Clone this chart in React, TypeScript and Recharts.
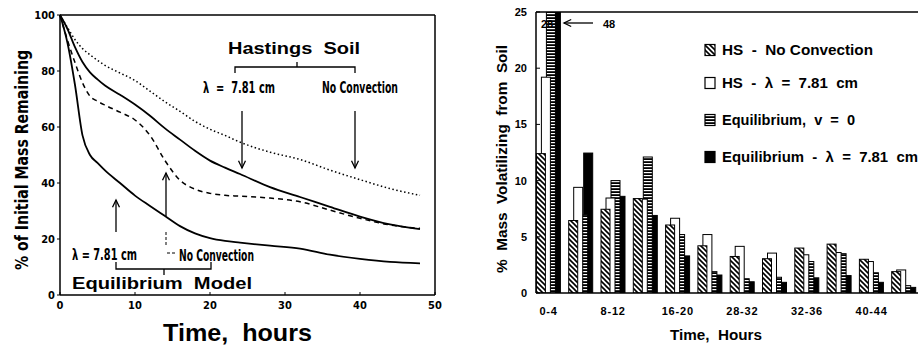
import React from "react";
import { LineChart, Line, XAxis, YAxis, BarChart, Bar, ReferenceLine } from "recharts";

// left panel: % of initial mass remaining vs time
const HOURS = [0, 1, 2, 3, 4, 5, 6, 8, 10, 12, 14, 16, 18, 20, 22, 24, 28, 32, 36, 40, 44, 48];
const HS_NO_CONVECTION = [100, 95.5, 91.2, 88, 85.8, 83.8, 82, 79.3, 76.6, 72.8, 69, 65.6, 62, 59.2, 57, 54.6, 51, 48.4, 44.6, 41.2, 38, 35.6];
const HS_LAMBDA = [100, 95, 88.5, 83.2, 79.5, 77, 74.8, 71.5, 68, 64, 59.5, 55.5, 51.5, 48, 45.5, 43.2, 38.5, 35, 31.5, 28, 25.2, 23.5];
const EQ_NO_CONVECTION = [100, 91, 83, 75.8, 71, 69.2, 67.8, 65.3, 62.5, 57, 48, 41, 37.8, 36.3, 35.6, 35.3, 34.6, 33.3, 30.3, 27.4, 25, 23.8];
const EQ_LAMBDA = [100, 90, 75, 57, 50, 47.2, 44.5, 40, 35.5, 31.8, 28.2, 24.6, 22, 20.3, 19.3, 18.7, 17.6, 16.6, 14.4, 12.9, 11.8, 11.3];
const REMAIN_X_TICKS = [0, 10, 20, 30, 40, 50];
const REMAIN_Y_TICKS = [0, 20, 40, 60, 80, 100];

// right panel: % mass volatilizing per 4-hour period
const PERIODS = ["0-4", "4-8", "8-12", "12-16", "16-20", "20-24", "24-28", "28-32", "32-36", "36-40", "40-44", "44-48"];
const PERIOD_TICKS = ["0-4", "", "8-12", "", "16-20", "", "28-32", "", "32-36", "", "40-44", ""];
const HS_NC_BARS = [12.4, 6.45, 7.45, 8.4, 6.05, 4.2, 3.25, 3.05, 4.0, 4.35, 3.0, 1.9];
const HS_LAMBDA_BARS = [19.2, 9.4, 8.45, 8.35, 6.65, 5.2, 4.15, 3.55, 3.4, 3.6, 2.8, 2.05];
const EQ_V0_BARS = [28, 6.95, 10.0, 12.1, 5.2, 1.9, 1.27, 1.4, 2.8, 3.5, 1.8, 0.65];
const EQ_LAMBDA_BARS = [48, 12.45, 8.6, 6.9, 3.3, 1.6, 1.0, 0.95, 1.35, 1.55, 0.95, 0.5];
const VOL_Y_TICKS = [0, 5, 10, 15, 20, 25];

const curveRows = HOURS.map((t, i) => ({
  t,
  hsNc: HS_NO_CONVECTION[i],
  hsLambda: HS_LAMBDA[i],
  eqNc: EQ_NO_CONVECTION[i],
  eqLambda: EQ_LAMBDA[i],
}));

const barRows = PERIODS.map((period, i) => ({
  period,
  hsNc: HS_NC_BARS[i],
  hsLambda: HS_LAMBDA_BARS[i],
  eqV0: EQ_V0_BARS[i],
  eqLambda: EQ_LAMBDA_BARS[i],
}));

const NARROW = "'Liberation Sans Narrow', 'Arial Narrow', 'DejaVu Sans Condensed', 'Liberation Sans', sans-serif";
const BOLD = "'Liberation Sans', Arial, sans-serif";

const BAR_SIZE = 9;
const BAR_GAP = -4;
const STEP = BAR_SIZE + BAR_GAP;

// bars are declared right-to-left so the left ones paint on top; the shape flips them back
const BAR_SERIES = [
  { key: "eqLambda", fill: "#000" },
  { key: "eqV0", fill: "url(#hstripe)" },
  { key: "hsLambda", fill: "#fff" },
  { key: "hsNc", fill: "url(#diag)" },
];

const LEGEND = [
  { label: "HS  -  No Convection", fill: "url(#diag)", cy: 50, len: 151 },
  { label: "HS  -  \u03bb  =  7.81  cm", fill: "#fff", cy: 83, len: 136 },
  { label: "Equilibrium,  v  =  0", fill: "url(#hstripe)", cy: 120, len: 133 },
  { label: "Equilibrium  -  \u03bb  =  7.81  cm", fill: "#000", cy: 157, len: 196 },
];

const makeShape = (shift: number, fill: string) => (props: any) => {
  const { x, y, width, height } = props;
  if (!height || height <= 0) return <g />;
  return <rect x={x + shift} y={y} width={width} height={height} fill={fill} stroke="#000" strokeWidth={1} />;
};

const Arrow = ({ x1, y1, x2, y2 }: { x1: number; y1: number; x2: number; y2: number }) => {
  const a = Math.atan2(y2 - y1, x2 - x1);
  const h = 8;
  const p1 = [x2 - h * Math.cos(a - 0.45), y2 - h * Math.sin(a - 0.45)];
  const p2 = [x2 - h * Math.cos(a + 0.45), y2 - h * Math.sin(a + 0.45)];
  return (
    <g stroke="#000" strokeWidth={1.3} fill="none">
      <line x1={x1} y1={y1} x2={x2} y2={y2} />
      <polyline points={`${p1[0]},${p1[1]} ${x2},${y2} ${p2[0]},${p2[1]}`} />
    </g>
  );
};

const Txt = ({ x, y, len, size, children, bold = true, narrow = false, anchor = "start", transform }: any) => (
  <text
    x={x}
    y={y}
    transform={transform}
    textAnchor={anchor}
    textLength={len}
    lengthAdjust="spacingAndGlyphs"
    fontFamily={narrow ? NARROW : BOLD}
    fontWeight={bold ? "bold" : "normal"}
    fontSize={size}
    fill="#000"
    style={{ whiteSpace: "pre" }}
  >
    {children}
  </text>
);

export default function App() {
  return (
    <div style={{ position: "absolute", left: 0, top: 0, width: 918, height: 346, overflow: "hidden", background: "#fff" }}>
      <svg width={0} height={0} style={{ position: "absolute" }}>
        <defs>
          <pattern id="diag" width={5} height={5} patternUnits="userSpaceOnUse">
            <rect width={5} height={5} fill="#fff" />
            <path d="M0,0 L5,5 M-1,4 L1,6 M4,-1 L6,1" stroke="#000" strokeWidth={1.6} />
          </pattern>
          <pattern id="hstripe" width={4} height={3} patternUnits="userSpaceOnUse">
            <rect width={4} height={3} fill="#000" />
            <rect x={0} y={1} width={4} height={1.2} fill="#fff" />
          </pattern>
        </defs>
      </svg>

      <div style={{ position: "absolute", left: 0, top: 0 }}>
        <LineChart width={460} height={346} data={curveRows} margin={{ top: 15, right: 25, bottom: 21, left: 0 }}>
          <XAxis
            dataKey="t"
            type="number"
            domain={[0, 50]}
            ticks={REMAIN_X_TICKS}
            height={30}
            tickSize={-3}
            tickMargin={9}
            axisLine={{ stroke: "#000", strokeWidth: 1.5 }}
            tickLine={{ stroke: "#000" }}
            tick={{ fontSize: 11, fill: "#000", fontFamily: NARROW, fontWeight: "bold" }}
          />
          <YAxis
            type="number"
            domain={[0, 100]}
            ticks={REMAIN_Y_TICKS}
            width={60}
            tickSize={3}
            tickMargin={2}
            axisLine={{ stroke: "#000", strokeWidth: 1.5 }}
            tickLine={{ stroke: "#000" }}
            tick={{ fontSize: 11, fill: "#000", fontFamily: NARROW, fontWeight: "bold" }}
          />
          <ReferenceLine y={100} stroke="#000" strokeWidth={1.5} />
          <ReferenceLine x={50} stroke="#000" strokeWidth={1.5} />
          <Line dataKey="hsNc" type="monotone" stroke="#000" strokeWidth={1.5} strokeDasharray="1.5 2.5" dot={false} isAnimationActive={false} />
          <Line dataKey="hsLambda" type="monotone" stroke="#000" strokeWidth={1.8} dot={false} isAnimationActive={false} />
          <Line dataKey="eqNc" type="monotone" stroke="#000" strokeWidth={1.5} strokeDasharray="5 4" dot={false} isAnimationActive={false} />
          <Line dataKey="eqLambda" type="monotone" stroke="#000" strokeWidth={1.8} dot={false} isAnimationActive={false} />
        </LineChart>
      </div>

      <div style={{ position: "absolute", left: 460, top: 0 }}>
        <BarChart
          width={460}
          height={346}
          data={barRows}
          margin={{ top: 12, right: 0, bottom: 23, left: 0 }}
          barSize={BAR_SIZE}
          barGap={BAR_GAP}
        >
          <XAxis
            dataKey="period"
            interval={0}
            padding={{ left: -3.6, right: 0 }}
            height={30}
            tickLine={false}
            tickSize={0}
            tickMargin={14}
            tickFormatter={(_v: string, i: number) => PERIOD_TICKS[i]}
            axisLine={{ stroke: "#000", strokeWidth: 1.5 }}
            tick={{ fontSize: 11, fill: "#000", fontFamily: BOLD, fontWeight: "bold", letterSpacing: 0.8 }}
          />
          <YAxis
            type="number"
            domain={[0, 25]}
            ticks={VOL_Y_TICKS}
            allowDataOverflow
            width={76}
            tickSize={-4}
            tickMargin={13}
            axisLine={{ stroke: "#000", strokeWidth: 1.5 }}
            tickLine={{ stroke: "#000" }}
            tick={{ fontSize: 11, fill: "#000", fontFamily: BOLD, fontWeight: "bold" }}
          />
          <ReferenceLine y={25} stroke="#000" strokeWidth={1.5} />
          {BAR_SERIES.map((s, i) => (
            <Bar
              key={s.key}
              dataKey={s.key}
              fill={s.fill}
              shape={makeShape((BAR_SERIES.length - 1 - 2 * i) * STEP, s.fill)}
              isAnimationActive={false}
            />
          ))}
        </BarChart>
      </div>

      <svg width={918} height={346} style={{ position: "absolute", left: 0, top: 0, pointerEvents: "none" }}>
        {/* left panel labels */}
        <Txt x={0} y={0} transform="translate(28,160) rotate(-90)" anchor="middle" len={220} size={17} narrow>
          % of Initial Mass Remaining
        </Txt>
        <Txt x={163} y={341} len={149} size={24}>{"Time,  hours"}</Txt>
        <Txt x={228} y={54} len={132} size={16}>{"Hastings  Soil"}</Txt>
        <path d="M235,73 V67 H355 V73 M297,67 V62" stroke="#000" strokeWidth={1.3} fill="none" />
        <Txt x={203} y={93} len={72} size={15} narrow>{"\u03bb  =  7.81 cm"}</Txt>
        <Txt x={322} y={93} len={76} size={15} narrow>No Convection</Txt>
        <Arrow x1={242} y1={111} x2={242} y2={168} />
        <Arrow x1={355} y1={111} x2={355} y2={168} />
        <Arrow x1={116} y1={232} x2={116} y2={200} />
        <Arrow x1={166} y1={216} x2={166} y2={173} />
        <path d="M166,232 V246 M167,253 H176" stroke="#000" strokeWidth={1} strokeDasharray="3 2" fill="none" />
        <Txt x={72} y={260} len={65} size={15} narrow>{"\u03bb = 7.81 cm"}</Txt>
        <Txt x={179} y={261} len={75} size={15} narrow>No Convection</Txt>
        <path d="M116,262 V269 H211 V262 M164,269 V275" stroke="#000" strokeWidth={1.3} fill="none" />
        <Txt x={72} y={289} len={180} size={16}>{"Equilibrium  Model"}</Txt>

        {/* right panel labels */}
        <Txt x={0} y={0} transform="translate(507,159) rotate(-90)" anchor="middle" len={228} size={15}>
          {"%  Mass  Volatilizing  from  Soil"}
        </Txt>
        <Txt x={670} y={340} len={92} size={14}>{"Time,  Hours"}</Txt>
        <Txt x={541} y={28} size={11}>28</Txt>
        <Arrow x1={593} y1={23} x2={564} y2={23} />
        <Txt x={603} y={28} size={11}>48</Txt>
        {LEGEND.map((l) => (
          <g key={l.label}>
            <rect x={705} y={l.cy - 5.5} width={10} height={11} fill={l.fill} stroke="#000" strokeWidth={1.2} />
            <Txt x={722} y={l.cy + 5} len={l.len} size={14}>{l.label}</Txt>
          </g>
        ))}
      </svg>
    </div>
  );
}
